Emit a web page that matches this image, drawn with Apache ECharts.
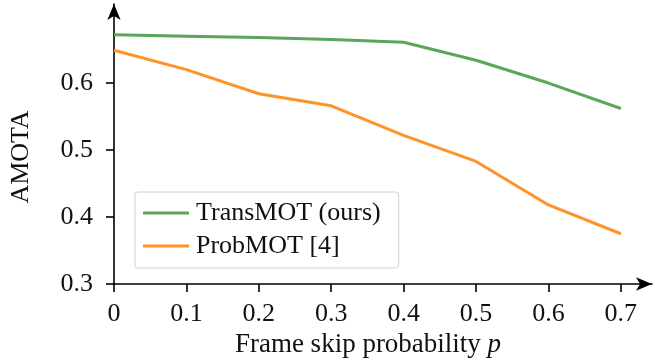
<!DOCTYPE html>
<html><head><meta charset="utf-8">
<script src="https://cdn.jsdelivr.net/npm/echarts@6/dist/echarts.min.js"></script>
<style>html,body{margin:0;padding:0;background:#fff}#c{width:657px;height:358px}</style>
</head><body><div id="c"></div>
<script>
var xValues = [0, 0.1, 0.2, 0.3, 0.4, 0.5, 0.6, 0.7];
var transMOT = [0.672, 0.670, 0.668, 0.665, 0.661, 0.634, 0.600, 0.562];
var probMOT = [0.649, 0.620, 0.584, 0.566, 0.522, 0.483, 0.418, 0.375];
var xTicks = [0, 0.1, 0.2, 0.3, 0.4, 0.5, 0.6, 0.7];
var yTicks = [0.3, 0.4, 0.5, 0.6];
var seriesNames = ['TransMOT (ours)', 'ProbMOT [4]'];

var font = 'Liberation Serif';
var chart = echarts.init(document.getElementById('c'), null, {renderer: 'canvas'});
function pairs(v) { return xValues.map(function (x, i) { return [x, v[i]]; }); }
chart.setOption({
  animation: false,
  grid: {left: 114, right: 5, top: 4, bottom: 74, outerBoundsMode: 'none', containLabel: false},
  xAxis: {
    type: 'value', min: 0, max: 0.743,
    axisLine: {lineStyle: {color: '#000', width: 1.6}, symbol: ['none', 'arrow'], symbolSize: [10, 16]},
    axisTick: {customValues: xTicks, length: 8, lineStyle: {color: '#000', width: 1.6}},
    axisLabel: {customValues: xTicks, formatter: function (v) { return v === 0 ? '0' : v.toFixed(1); },
      color: '#111', fontFamily: font, fontSize: 26, margin: 17},
    splitLine: {show: false},
    name: '{a|Frame skip probability }{b|p}', nameLocation: 'middle', nameGap: 45,
    nameTextStyle: {padding: [0, 30, 0, 0], rich: {a: {fontFamily: font, fontSize: 27, color: '#111'},
      b: {fontFamily: font, fontSize: 27, fontStyle: 'italic', color: '#111'}}}
  },
  yAxis: {
    type: 'value', min: 0.3, max: 0.718,
    axisLine: {show: true, lineStyle: {color: '#000', width: 1.6}, symbol: ['none', 'arrow'], symbolSize: [10, 16]},
    axisTick: {show: true, customValues: yTicks, length: 8, lineStyle: {color: '#000', width: 1.6}},
    axisLabel: {customValues: yTicks, formatter: function (v) { return v.toFixed(1); },
      color: '#111', fontFamily: font, fontSize: 26, margin: 21},
    splitLine: {show: false},
    name: 'AMOTA', nameLocation: 'middle', nameGap: 80,
    nameTextStyle: {fontFamily: font, fontSize: 26, color: '#111', padding: [0, 26, 0, 0]}
  },
  legend: {
    left: 135, top: 192, orient: 'vertical',
    data: seriesNames,
    icon: 'rect',
    itemWidth: 46, itemHeight: 3, itemGap: 7,
    padding: [8, 18, 9, 8],
    borderColor: '#d0d0d0', borderWidth: 1, borderRadius: 3,
    textStyle: {fontFamily: font, fontSize: 26, color: '#111', padding: [0, 0, 0, 2]}
  },
  series: [
    {name: seriesNames[0], type: 'line', data: pairs(transMOT), showSymbol: false, symbol: 'none',
      lineStyle: {color: '#5ba65b', width: 3}, itemStyle: {color: '#5ba65b'}},
    {name: seriesNames[1], type: 'line', data: pairs(probMOT), showSymbol: false, symbol: 'none',
      lineStyle: {color: '#ff9228', width: 3}, itemStyle: {color: '#ff9228'}}
  ]
});
</script></body></html>
